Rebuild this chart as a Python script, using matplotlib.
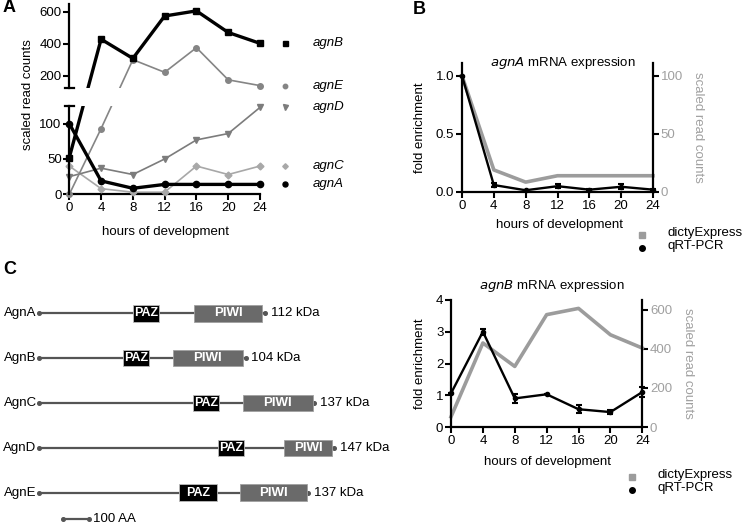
import numpy as np
import matplotlib
matplotlib.use("Agg")
import matplotlib.pyplot as plt
from matplotlib.patches import Rectangle

plt.rcParams['font.family'] = ['Liberation Sans', 'DejaVu Sans']
plt.rcParams['font.size'] = 9.5

hours = [0, 4, 8, 12, 16, 20, 24]

# A: dictyExpress scaled read counts
agnB = [52, 430, 310, 575, 607, 472, 404]
agnE = [0, 93, 302, 223, 377, 176, 140]
agnD = [25, 37, 28, 50, 77, 86, 123]
agnC = [40, 8, 3, 3, 40, 28, 40]
agnA = [100, 19, 8.5, 14, 14, 14, 14]

# B: qRT-PCR fold enrichment (mean, error)
agnA_qpcr = [1.0, 0.06, 0.015, 0.05, 0.02, 0.045, 0.02]
agnA_err = [0, 0.02, 0.005, 0.015, 0.01, 0.02, 0.005]
agnB_qpcr = [1.06, 3.0, 0.9, 1.03, 0.56, 0.47, 1.1]
agnB_err = [0, 0.1, 0.15, 0, 0.12, 0.05, 0.15]

# C: domain architecture (amino acids)
proteins = ['AgnA', 'AgnB', 'AgnC', 'AgnD', 'AgnE']
lengths = [868, 794, 1058, 1135, 1035]
paz_start = [359, 321, 590, 688, 537]
paz_end = [462, 423, 691, 788, 685]
piwi_start = [595, 513, 782, 942, 772]
piwi_end = [858, 782, 1052, 1127, 1028]
masses = ['112 kDa', '104 kDa', '137 kDa', '147 kDa', '137 kDa']

W, H = 745, 527
fig = plt.figure(figsize=(W / 100, H / 100), dpi=100)


def box(l, t, r, b):
    return [l / W, 1 - b / H, (r - l) / W, (b - t) / H]


def ftext(x, y, s, **kw):
    fig.text(x / W, 1 - y / H, s, **kw)


def style_axis(ax):
    for s in ax.spines.values():
        s.set_linewidth(1.6)
    ax.tick_params(direction='out', length=4, width=1.5, pad=1.5)


# ---------------- A ----------------
# broken y axis like Prism: lines stay straight across the gap, gap is blanked
brk, ytop = 125, 650
lo_h, gap, hi_h = 88.3, 18.0, 84.0
lo_k, hi_k = lo_h / brk, hi_h / (ytop - brk)


def fwd(y):
    y = np.asarray(y, dtype=float)
    return np.where(y <= brk, y * lo_k, lo_h + gap + (y - brk) * hi_k)


def inv(f):
    f = np.asarray(f, dtype=float)
    return np.where(f <= lo_h, f / lo_k,
                    np.where(f < lo_h + gap, brk, brk + (f - lo_h - gap) / hi_k))


axA = fig.add_axes(box(69.3, 4, 260, 194.3))
axA.set_yscale('function', functions=(fwd, inv))
axA.set_xlim(0, 24)
axA.set_ylim(0, ytop)

series = [
    ('agnC', agnC, '#a8a8a8', 'D', 1.2, 3.5),
    ('agnD', agnD, '#7c7c7c', 'v', 1.2, 4.5),
    ('agnE', agnE, '#858585', 'o', 1.2, 4),
    ('agnA', agnA, 'black', 'o', 2.4, 4.5),
    ('agnB', agnB, 'black', 's', 2.4, 4.5),
]

for name, vals, col, mk, lw, ms in series:
    axA.plot(hours, vals, color=col, lw=lw, zorder=2)
    axA.plot(hours, vals, ls='none', marker=mk, color=col, ms=ms, clip_on=False, zorder=4)
    # legend entry next to the last point
    axA.plot([27.1], [vals[-1]], ls='none', marker=mk, color=col, ms=ms * 0.8, clip_on=False)
    axA.text(30.6, vals[-1], name, style='italic', va='center', ha='left', fontsize=9.5)

# blank band for the axis break
axA.add_patch(Rectangle((0.006, lo_h / (lo_h + gap + hi_h)), 1.0, gap / (lo_h + gap + hi_h),
                        transform=axA.transAxes, facecolor='white', edgecolor='none',
                        zorder=3, clip_on=False))

axA.set_yticks([0, 50, 100, 200, 400, 600])
axA.set_xticks(hours)
for sp in ['top', 'right', 'left']:
    axA.spines[sp].set_visible(False)
style_axis(axA)
ytr = axA.get_yaxis_transform()
axA.plot([0, 0], [0, brk], transform=ytr, color='black', lw=1.6, clip_on=False, zorder=5)
axA.plot([0, 0], [brk + 1e-6, ytop], transform=ytr, color='black', lw=1.6, clip_on=False, zorder=5)
axA.plot([-0.023, 0.023], [brk, brk], transform=ytr, color='black', lw=1.6, clip_on=False, zorder=5)
axA.plot([-0.023, 0.023], [brk + 1e-6, brk + 1e-6], transform=ytr, color='black', lw=1.6,
         clip_on=False, zorder=5)

ftext(28, 95, 'scaled read counts', rotation=90, ha='center', va='center')
ftext(165, 232, 'hours of development', ha='center', va='center')


# ---------------- B ----------------
def expr_panel(rect, qpcr, err, reads, top_left, top_right, lt, rt, title, title_xy,
               xlab_xy, ylab_x, rlab_x, leg_xy):
    ax = fig.add_axes(rect)
    ax2 = ax.twinx()
    ax2.plot(hours, reads, color='#9c9c9c', lw=2.6, clip_on=False)
    ax.errorbar(hours, qpcr, yerr=err, color='black', lw=1.7, marker='o', ms=3,
                capsize=2, capthick=1.5, elinewidth=1.5, clip_on=False)
    ax.set_zorder(ax2.get_zorder() + 1)
    ax.patch.set_visible(False)
    ax.set_xlim(0, 24)
    ax.set_xticks(hours)
    ax.set_ylim(0, top_left)
    ax.set_yticks(lt)
    ax2.set_ylim(0, top_right)
    ax2.set_yticks(rt)
    for a in (ax, ax2):
        a.spines['top'].set_visible(False)
        style_axis(a)
    ax2.tick_params(axis='y', labelcolor='#a0a0a0', color='black')
    ax.spines['right'].set_visible(False)
    ax2.spines['left'].set_visible(False)
    ax2.spines['bottom'].set_visible(False)

    ftext(title_xy[0], title_xy[1], title, ha='center', va='center')
    ftext(xlab_xy[0], xlab_xy[1], 'hours of development', ha='center', va='center')
    cy = (1 - (rect[1] + rect[3] / 2)) * H
    ftext(ylab_x, cy, 'fold enrichment', rotation=90, ha='center', va='center')
    ftext(rlab_x, cy, 'scaled read counts', rotation=270, ha='center', va='center',
          color='#a0a0a0')

    lx, ly = leg_xy
    fig.add_artist(plt.Line2D([lx / W], [1 - ly / H], marker='s', ms=4.5, color='#9c9c9c',
                              ls='none', transform=fig.transFigure))
    fig.add_artist(plt.Line2D([lx / W], [1 - (ly + 12.5) / H], marker='o', ms=4, color='black',
                              ls='none', transform=fig.transFigure))
    ftext(lx + 26, ly - 2, 'dictyExpress', ha='left', va='center')
    ftext(lx + 26, ly + 10.5, 'qRT-PCR', ha='left', va='center')
    return ax


expr_panel(box(462, 63, 653, 192), agnA_qpcr, agnA_err, agnA, 1.11, 111,
           [0, 0.5, 1.0], [0, 50, 100], r'$\it{agnA}$ mRNA expression', (563, 63),
           (559, 225), 420, 698, (642, 235))
expr_panel(box(451, 300, 642.3, 427), agnB_qpcr, agnB_err, agnB, 4, 650,
           [0, 1, 2, 3, 4], [0, 200, 400, 600], r'$\it{agnB}$ mRNA expression', (552, 286),
           (548, 462), 420, 688, (632, 477))

# ---------------- C ----------------
axC = fig.add_axes(box(39.3, 300, 370, 527))
axC.set_xlim(0, 330.7 / 0.26)
axC.set_ylim(-4.765, 0.297)
axC.axis('off')
bh = 0.37
for i, name in enumerate(proteins):
    y = -i
    axC.plot([0, lengths[i]], [y, y], color='#555555', lw=1.6, zorder=1,
             marker='o', ms=2.6, clip_on=False)
    axC.add_patch(Rectangle((paz_start[i], y - bh / 2), paz_end[i] - paz_start[i], bh,
                            facecolor='black', edgecolor='#bbbbbb', lw=0.6, zorder=2))
    axC.text((paz_start[i] + paz_end[i]) / 2, y, 'PAZ', color='white', weight='bold',
             ha='center', va='center', fontsize=9, zorder=3)
    axC.add_patch(Rectangle((piwi_start[i], y - bh / 2), piwi_end[i] - piwi_start[i], bh,
                            facecolor='#6a6a6a', edgecolor='#a0a0a0', lw=0.6, zorder=2))
    axC.text((piwi_start[i] + piwi_end[i]) / 2, y, 'PIWI', color='white', weight='bold',
             ha='center', va='center', fontsize=9.5, zorder=3)
    axC.text(-10, y, name, ha='right', va='center', fontsize=9.5, clip_on=False)
    axC.text(lengths[i] + 22, y, masses[i], ha='left', va='center', fontsize=9.5, clip_on=False)

axC.plot([92, 192], [-4.586, -4.586], color='#555555', lw=1.6, marker='o', ms=2.6,
         clip_on=False)
axC.text(208, -4.586, '100 AA', ha='left', va='center', fontsize=9.5)

ftext(3, 8, 'A', weight='bold', fontsize=13, va='center')
ftext(413, 10, 'B', weight='bold', fontsize=13, va='center')
ftext(3, 270, 'C', weight='bold', fontsize=13, va='center')

fig.savefig('out.png', dpi=100)
